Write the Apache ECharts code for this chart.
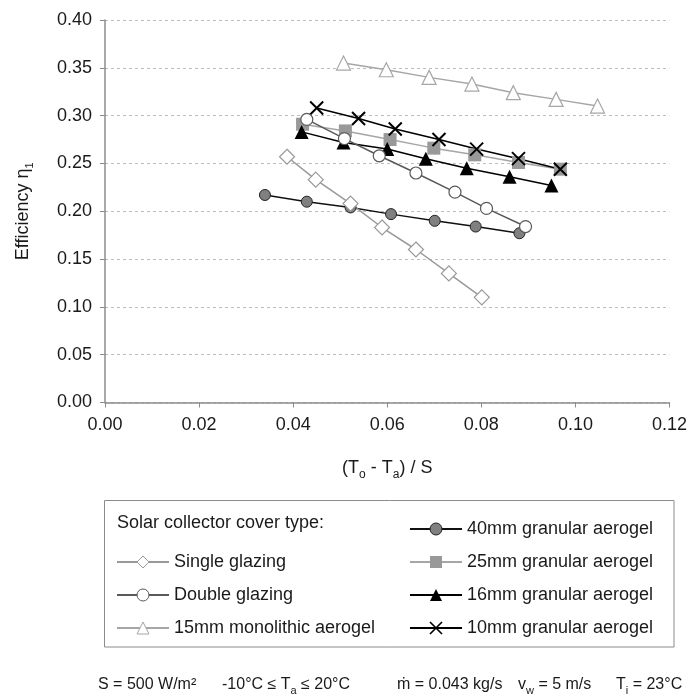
<!DOCTYPE html>
<html>
<head>
<meta charset="utf-8">
<script src="https://cdn.jsdelivr.net/npm/echarts@6/dist/echarts.min.js"></script>
<style>
  html, body { margin: 0; padding: 0; background: #fff; }
  #chart { width: 690px; height: 695px; }
</style>
</head>
<body>
<div id="chart"></div>
<script>
// values, (To - Ta)/S vs efficiency
const singleX = [0.0387, 0.0448, 0.0522, 0.0589, 0.0661, 0.0731, 0.0801];
const singleY = [0.257, 0.233, 0.208, 0.183, 0.160, 0.135, 0.110];
const doubleX = [0.0429, 0.0509, 0.0583, 0.0661, 0.0744, 0.0811, 0.0894];
const doubleY = [0.296, 0.276, 0.258, 0.240, 0.220, 0.203, 0.184];
const mono15X = [0.0507, 0.0598, 0.0689, 0.0780, 0.0868, 0.0959, 0.1047];
const mono15Y = [0.355, 0.348, 0.340, 0.333, 0.324, 0.317, 0.310];
const gran40X = [0.0340, 0.0429, 0.0522, 0.0608, 0.0701, 0.0788, 0.0881];
const gran40Y = [0.217, 0.210, 0.204, 0.197, 0.190, 0.184, 0.177];
const gran25X = [0.0420, 0.0511, 0.0606, 0.0699, 0.0786, 0.0879, 0.0968];
const gran25Y = [0.291, 0.284, 0.275, 0.266, 0.259, 0.251, 0.244];
const gran16X = [0.0418, 0.0507, 0.0600, 0.0682, 0.0769, 0.0860, 0.0949];
const gran16Y = [0.283, 0.272, 0.265, 0.255, 0.245, 0.236, 0.227];
const gran10X = [0.0450, 0.0539, 0.0617, 0.0710, 0.0790, 0.0879, 0.0968];
const gran10Y = [0.308, 0.297, 0.286, 0.275, 0.265, 0.255, 0.244];

const leftLegend = ["Single glazing", "Double glazing", "15mm monolithic aerogel"];
const rightLegend = ["40mm granular aerogel", "25mm granular aerogel", "16mm granular aerogel", "10mm granular aerogel"];

const FONT = "'Liberation Sans', Arial, sans-serif";
const TEXT = "#1a1a1a";
const AXIS = "#8c8c8c";
const CROSS = "path://M0,0L10,10M10,0L0,10";

function line(name, xs, ys, o) {
  return {
    name,
    type: "line",
    data: xs.map((x, i) => [x, ys[i]]),
    symbol: o.symbol,
    symbolSize: o.size,
    lineStyle: { color: o.line, width: 1.5 },
    itemStyle: { color: o.fill, borderColor: o.border, borderWidth: o.bw },
    emphasis: { disabled: true },
    animation: false,
  };
}

// thinner outlines for legend icons
function legendItems(names) {
  return names.map((name) => ({
    name,
    itemStyle: { borderWidth: name.startsWith("10mm") ? 1.6 : name.startsWith("25mm") || name.startsWith("16mm") ? 0 : 1 },
  }));
}

const sub = (size) => ({ fontSize: size, color: TEXT, fill: TEXT, fontFamily: FONT, verticalAlign: "bottom", padding: [0, 0, -3, 0] });

const chart = echarts.init(document.getElementById("chart"));
chart.setOption({
  backgroundColor: "#fff",
  textStyle: { fontFamily: FONT },
  grid: { left: 105, right: 17, top: 20, bottom: 292.5, containLabel: false },
  xAxis: {
    type: "value",
    min: 0,
    max: 0.12,
    interval: 0.02,
    name: "(T{s|o} - T{s|a}) / S",
    nameLocation: "middle",
    nameGap: 57,
    nameTextStyle: { color: TEXT, fontSize: 18, fontFamily: FONT, rich: { s: sub(12) } },
    axisLine: { lineStyle: { color: AXIS, width: 1.5 } },
    axisTick: { show: true, length: 5, lineStyle: { color: AXIS } },
    axisLabel: { color: TEXT, fontSize: 18, margin: 14, formatter: (v) => v.toFixed(2) },
    splitLine: { show: false },
  },
  yAxis: {
    type: "value",
    min: 0,
    max: 0.4,
    interval: 0.05,
    name: "Efficiency η{s|1}",
    nameLocation: "middle",
    nameGap: 73,
    nameTextStyle: { color: TEXT, fontSize: 18, fontFamily: FONT, rich: { s: sub(11) } },
    axisLine: { show: true, lineStyle: { color: AXIS, width: 1.5 } },
    axisTick: { show: true, length: 5, lineStyle: { color: AXIS } },
    axisLabel: { color: TEXT, fontSize: 18, margin: 13, formatter: (v) => v.toFixed(2) },
    splitLine: { show: true, lineStyle: { color: "#bdbdbd", type: [3, 3], width: 1 } },
  },
  legend: [
    {
      data: legendItems(leftLegend),
      orient: "vertical",
      left: 116,
      top: 553,
      padding: 0,
      itemWidth: 52,
      itemHeight: 15,
      itemGap: 15,
      selectedMode: false,
      textStyle: { color: TEXT, fontSize: 18, fontFamily: FONT },
    },
    {
      data: legendItems(rightLegend),
      orient: "vertical",
      left: 409,
      top: 520,
      padding: 0,
      itemWidth: 52,
      itemHeight: 15,
      itemGap: 15,
      selectedMode: false,
      textStyle: { color: TEXT, fontSize: 18, fontFamily: FONT },
    },
  ],
  graphic: [
    {
      type: "rect",
      shape: { x: 104.5, y: 500.5, width: 569.5, height: 146.5 },
      style: { fill: "none", stroke: "#8c8c8c", lineWidth: 1 },
      silent: true,
    },
    {
      type: "text",
      x: 117, y: 523,
      style: { text: "Solar collector cover type:", font: "18px " + FONT, fill: TEXT, verticalAlign: "middle" },
      silent: true,
    },
    {
      type: "text", x: 98, y: 685,
      style: { text: "S = 500 W/m²", font: "16px " + FONT, fill: TEXT, verticalAlign: "middle" },
      silent: true,
    },
    {
      type: "text", x: 222, y: 685,
      style: { text: "-10°C ≤ T{s|a} ≤ 20°C", font: "16px " + FONT, fill: TEXT, verticalAlign: "middle", rich: { s: sub(11) } },
      silent: true,
    },
    {
      type: "text", x: 397, y: 685,
      style: { text: "ṁ = 0.043 kg/s", font: "16px " + FONT, fill: TEXT, verticalAlign: "middle" },
      silent: true,
    },
    {
      type: "text", x: 518, y: 685,
      style: { text: "v{s|w} = 5 m/s", font: "16px " + FONT, fill: TEXT, verticalAlign: "middle", rich: { s: sub(11) } },
      silent: true,
    },
    {
      type: "text", x: 616, y: 685,
      style: { text: "T{s|i} = 23°C", font: "16px " + FONT, fill: TEXT, verticalAlign: "middle", rich: { s: sub(11) } },
      silent: true,
    },
  ],
  series: [
    line("40mm granular aerogel", gran40X, gran40Y, { symbol: "circle", size: 11, line: "#111", fill: "#808080", border: "#222", bw: 1 }),
    line("25mm granular aerogel", gran25X, gran25Y, { symbol: "rect", size: 13, line: "#a6a6a6", fill: "#999", border: "#999", bw: 0 }),
    line("16mm granular aerogel", gran16X, gran16Y, { symbol: "triangle", size: 14, line: "#000", fill: "#000", border: "#000", bw: 0 }),
    line("10mm granular aerogel", gran10X, gran10Y, { symbol: CROSS, size: 13, line: "#000", fill: "#000", border: "#000", bw: 2 }),
    line("Double glazing", doubleX, doubleY, { symbol: "circle", size: 12, line: "#595959", fill: "#fff", border: "#595959", bw: 1.2 }),
    line("Single glazing", singleX, singleY, { symbol: "diamond", size: 15, line: "#999", fill: "#fff", border: "#999", bw: 1.2 }),
    line("15mm monolithic aerogel", mono15X, mono15Y, { symbol: "triangle", size: 14, line: "#a6a6a6", fill: "#fff", border: "#a6a6a6", bw: 1.2 }),
  ],
});
</script>
</body>
</html>
